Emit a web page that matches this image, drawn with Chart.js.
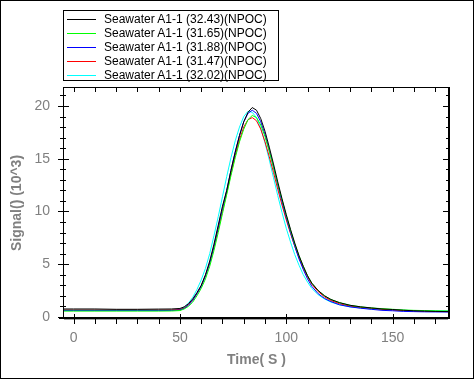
<!DOCTYPE html>
<html>
<head>
<meta charset="utf-8">
<script src="https://cdn.jsdelivr.net/npm/chart.js@4.4.1/dist/chart.umd.min.js"></script>
<style>
html,body{margin:0;padding:0;background:#fff;}
#wrap{position:relative;width:474px;height:379px;overflow:hidden;}
canvas{position:absolute;left:0;top:0;}
#legend{position:absolute;left:63px;top:10px;width:214px;height:69px;border:1px solid #000;background:#fff;font:12px "Liberation Sans",Arial,sans-serif;color:#000;}
.row{position:absolute;left:0;height:14px;line-height:14px;white-space:nowrap;}
.ln{position:absolute;left:3px;top:7px;width:29px;height:1px;}
.tx{position:absolute;left:40px;top:0;}
</style>
</head>
<body>
<div id="wrap">
<canvas id="c" width="474" height="379"></canvas>
<div id="legend"></div>
</div>
<script>
const seriesNames = ["Seawater A1-1 (32.43)(NPOC)","Seawater A1-1 (31.65)(NPOC)","Seawater A1-1 (31.88)(NPOC)","Seawater A1-1 (31.47)(NPOC)","Seawater A1-1 (32.02)(NPOC)"];
const seriesColors = ["#000000","#00ff00","#0000ff","#ff0000","#00ffff"];
const times = [-5,0,10,20,30,40,46,50,52,54,56,58,60,62,64,66,68,70,72,74,76,78,80,82,84,86,88,90,92,94,96,98,100,102,104,106,108,110,112,115,118,121,125,130,135,140,145,150,155,160,165,170,177];
const signalBlack = [0.75,0.75,0.75,0.72,0.72,0.74,0.75,0.8,0.95,1.25,1.7,2.3,3.0,4.0,5.3,6.9,8.7,10.5,12.0,13.9,15.6,17.2,18.5,19.4,19.85,19.6,18.8,17.6,16.1,14.5,12.8,11.2,9.7,8.3,7.0,5.8,4.8,3.9,3.2,2.5,2.0,1.65,1.35,1.1,0.95,0.85,0.75,0.7,0.63,0.58,0.55,0.52,0.5];
const signalGreen = [0.55,0.55,0.55,0.55,0.55,0.55,0.56,0.6,0.75,1.0,1.4,2.0,2.7,3.6,4.8,6.3,8.0,9.8,11.6,13.4,15.1,16.6,17.8,18.7,19.1,18.9,18.2,17.1,15.7,14.2,12.6,11.1,9.6,8.2,6.9,5.8,4.8,3.9,3.2,2.5,2.0,1.65,1.35,1.1,0.95,0.85,0.78,0.72,0.66,0.62,0.6,0.58,0.56];
const signalBlue = [0.6,0.6,0.6,0.6,0.6,0.6,0.61,0.65,0.8,1.1,1.55,2.2,2.9,3.9,5.1,6.7,8.5,10.3,12.0,13.9,15.7,17.2,18.5,19.3,19.6,19.3,18.5,17.3,15.8,14.2,12.5,10.9,9.4,8.0,6.7,5.5,4.5,3.6,2.9,2.2,1.75,1.45,1.15,0.95,0.82,0.72,0.62,0.58,0.52,0.5,0.48,0.47,0.46];
const signalRed = [0.65,0.65,0.65,0.65,0.65,0.65,0.66,0.7,0.85,1.15,1.6,2.2,2.9,3.9,5.1,6.6,8.3,10.0,11.8,13.6,15.3,16.8,18.0,18.7,18.9,18.6,17.8,16.6,15.2,13.7,12.1,10.6,9.2,7.9,6.7,5.6,4.6,3.8,3.1,2.4,1.9,1.55,1.25,1.02,0.9,0.8,0.72,0.65,0.6,0.56,0.53,0.51,0.5];
const signalCyan = [0.65,0.65,0.65,0.65,0.65,0.65,0.66,0.72,0.95,1.3,1.85,2.6,3.5,4.6,6.0,7.7,9.5,11.4,13.3,15.1,16.7,18.0,19.0,19.5,19.4,18.9,17.9,16.5,14.9,13.2,11.5,9.9,8.4,7.1,5.9,4.9,4.0,3.3,2.7,2.1,1.7,1.4,1.15,0.95,0.85,0.75,0.7,0.66,0.62,0.6,0.58,0.56,0.55];
const xTickLabels = [0,50,100,150];
const yTickLabels = [0,5,10,15,20];

const allSignals = [signalBlack,signalGreen,signalBlue,signalRed,signalCyan];

// legend
const lg = document.getElementById('legend');
seriesNames.forEach((n,i)=>{
  const r = document.createElement('div');
  r.className='row'; r.style.top=(1+i*14)+'px';
  r.innerHTML='<span class="ln" style="background:'+seriesColors[i]+'"></span><span class="tx"></span>';
  r.querySelector('.tx').textContent=n;
  lg.appendChild(r);
});

const FONT = '"Liberation Sans", Arial, sans-serif';
const GREY = '#808080';

const axesPlugin = {
  id:'axesPlugin',
  afterDraw(chart){
    const ctx = chart.ctx, a = chart.chartArea;
    const xs = chart.scales.x, ys = chart.scales.y;
    ctx.save();
    ctx.strokeStyle='#000'; ctx.lineWidth=1;
    // frame
    ctx.beginPath();
    ctx.moveTo(a.left+0.5,a.top+0.5); ctx.lineTo(a.right,a.top+0.5);
    ctx.moveTo(a.left+0.5,a.top); ctx.lineTo(a.left+0.5,a.bottom);
    ctx.stroke();
    ctx.lineWidth=2;
    ctx.beginPath();
    ctx.moveTo(a.right-1,a.top); ctx.lineTo(a.right-1,a.bottom);
    ctx.moveTo(a.left-4,a.bottom-1); ctx.lineTo(a.right,a.bottom-1);
    ctx.stroke();
    ctx.lineWidth=1;
    ctx.strokeStyle='#a0a0a0';
    ctx.beginPath(); ctx.moveTo(a.left+1,a.bottom+0.5); ctx.lineTo(a.right-2,a.bottom+0.5); ctx.stroke();
    ctx.strokeStyle='#000';
    ctx.beginPath();
    // x ticks bottom and top
    for(let v=0; v<=170; v+=10){
      const px = Math.round(xs.getPixelForValue(v))+0.5;
      const major = v%50===0;
      ctx.moveTo(px, a.bottom+(major?-5:0)); ctx.lineTo(px, a.bottom+5);
      ctx.moveTo(px, a.top); ctx.lineTo(px, a.top+5);
    }
    // y ticks left and right
    for(let v=0; v<=21; v+=1){
      const py = Math.round(ys.getPixelForValue(v))+0.5;
      const major = v%5===0;
      if(major){ ctx.moveTo(a.left-5,py); ctx.lineTo(a.left+6,py); ctx.moveTo(a.right-7,py); ctx.lineTo(a.right,py); }
      else { ctx.moveTo(a.left-3,py); ctx.lineTo(a.left+3,py); ctx.moveTo(a.right-4,py); ctx.lineTo(a.right,py); }
    }
    ctx.stroke();
    // outer border
    ctx.strokeRect(0.5,0.5,473,378);
    ctx.restore();
  }
};

new Chart(document.getElementById('c'),{
  type:'line',
  data:{
    datasets: allSignals.map((s,i)=>({
      label: seriesNames[i],
      data: times.map((t,k)=>({x:t,y:s[k]})),
      borderColor: seriesColors[i],
      borderWidth: 1,
      pointRadius: 0,
      tension: 0,
      fill: false
    }))
  },
  options:{
    responsive:false,
    animation:false,
    events:[],
    layout:{padding:{top:87,right:24,bottom:0,left:0}},
    plugins:{legend:{display:false},tooltip:{enabled:false}},
    scales:{
      x:{
        type:'linear', min:-5, max:177,
        grid:{display:false,drawTicks:false}, border:{display:false},
        afterBuildTicks:(s)=>{s.ticks = xTickLabels.map(v=>({value:v}));},
        afterFit:(s)=>{s.height=60;},
        ticks:{padding:11,color:GREY,font:{family:FONT,size:14},maxRotation:0},
        title:{display:true,text:'Time( S )',color:GREY,font:{family:FONT,size:14,weight:'bold'},padding:{top:0,bottom:10}}
      },
      y:{
        type:'linear', min:-0.2, max:21.8,
        grid:{display:false,drawTicks:false}, border:{display:false},
        afterBuildTicks:(s)=>{s.ticks = yTickLabels.map(v=>({value:v}));},
        afterFit:(s)=>{s.width=63;},
        ticks:{padding:13,color:GREY,font:{family:FONT,size:14}},
        title:{display:true,text:'Signal() (10^3)',color:GREY,font:{family:FONT,size:14,weight:'bold'},padding:{top:9,bottom:0}}
      }
    }
  },
  plugins:[axesPlugin]
});
</script>
</body>
</html>
